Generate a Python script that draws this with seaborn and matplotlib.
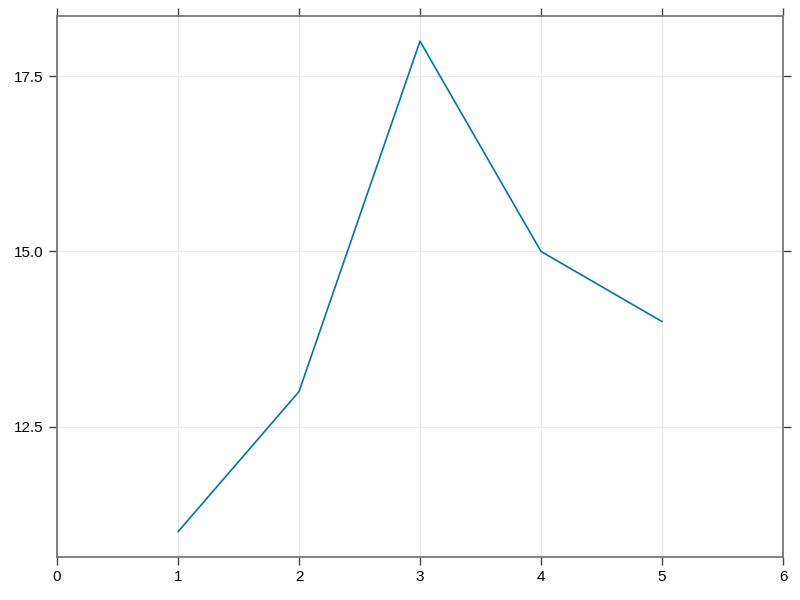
import matplotlib
matplotlib.use("Agg")
import matplotlib.pyplot as plt
import seaborn as sns
import pandas as pd

x_vals = [1, 2, 3, 4, 5]
y_vals = [11, 13, 18, 15, 14]

sns.set_style("white")
plt.rcParams['font.family'] = ['Liberation Sans', 'DejaVu Sans']

df = pd.DataFrame({"x": x_vals, "y": y_vals})

fig = plt.figure(figsize=(8, 6), dpi=100)
ax = fig.add_axes([57/800, 1 - 557/600, (783-57)/800, (557-16)/600])
sns.lineplot(data=df, x="x", y="y", ax=ax, color="#0072B2", linewidth=1.2)

ax.set_xlim(0, 6)
ax.set_ylim(10.64, 18.36)
ax.set_xticks([0, 1, 2, 3, 4, 5, 6])
ax.set_yticks([12.5, 15.0, 17.5])
ax.set_yticklabels(["12.5", "15.0", "17.5"])
ax.set_xlabel("")
ax.set_ylabel("")
ax.grid(True, color="#e6e6e6", linewidth=0.9)
ax.set_axisbelow(True)
for s in ax.spines.values():
    s.set_color("#777777")
    s.set_linewidth(1.3)
ax.tick_params(axis="both", which="both", direction="out", length=6, width=1.0,
               color="#444444", labelsize=11, labelcolor="black",
               top=True, right=True, bottom=True, left=True,
               labeltop=False, labelright=False)

fig.savefig("out.png", dpi=100)
